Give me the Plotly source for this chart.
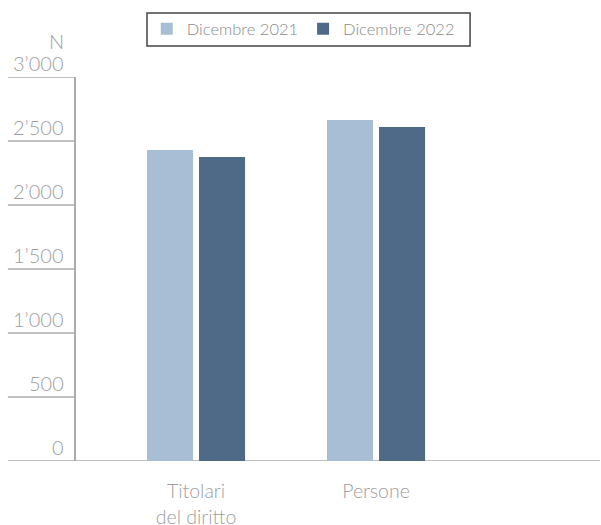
import plotly.graph_objects as go

categories = ["Titolari<br>del diritto", "Persone"]
series_names = ["Dicembre 2021", "Dicembre 2022"]
values_2021 = [2430, 2665]
values_2022 = [2375, 2610]
series_colors = ["#A8BED4", "#4F6A87"]
y_ticks = [0, 500, 1000, 1500, 2000, 2500, 3000]
y_tick_labels = ["0", "500", "1’000", "1’500", "2’000", "2’500", "3’000"]

FONT = "Lato"
GRAY = "#9e9e9e"
LINE = "#ababab"

fig = go.Figure()
for name, vals, col in zip(series_names, [values_2021, values_2022], series_colors):
    fig.add_trace(go.Bar(x=categories, y=vals, name=name, marker=dict(color=col, line=dict(width=0))))

shapes = []
annotations = []
for v, lab in zip(y_ticks, y_tick_labels):
    shapes.append(dict(type="line", xref="paper", yref="y", x0=-0.13, x1=1 if v == 0 else 0,
                       y0=v, y1=v, line=dict(color=LINE, width=1.5), layer="below"))
    annotations.append(dict(xref="paper", yref="y", x=-0.019, y=v, xanchor="right", yanchor="bottom",
                            text=lab, showarrow=False, yshift=0,
                            font=dict(family=FONT, size=20, color=GRAY, weight=300)))
annotations.append(dict(xref="paper", yref="y", x=-0.019, y=3000, xanchor="right", yanchor="bottom",
                        text="N", showarrow=False, yshift=22,
                        font=dict(family=FONT, size=20, color=GRAY, weight=300)))
# legend frame
shapes.append(dict(type="rect", xref="paper", yref="paper", x0=0.1355, x1=0.752, y0=1.0807, y1=1.1667,
                   line=dict(color="#444", width=1.5), fillcolor="rgba(0,0,0,0)"))

fig.update_layout(
    width=601, height=525,
    margin=dict(l=76, r=1, t=77, b=64, autoexpand=False),
    paper_bgcolor="white", plot_bgcolor="white",
    barmode="group", bargap=0.422, bargroupgap=0.115,
    font=dict(family=FONT, color=GRAY, weight=300),
    showlegend=True,
    legend=dict(orientation="h", xref="paper", yref="container", x=0.135, y=0.978,
                xanchor="left", yanchor="top", borderwidth=0, bgcolor="rgba(0,0,0,0)",
                font=dict(family=FONT, size=16.5, color="#8a8a8a", weight=300),
                itemwidth=30, tracegroupgap=0),
    xaxis=dict(range=[-0.6667, 2.244], showgrid=False, zeroline=False, showline=False,
               automargin=False,
               ticks="outside", ticklen=13, tickcolor="rgba(0,0,0,0)",
               tickfont=dict(family=FONT, size=19.5, color=GRAY, weight=300)),
    yaxis=dict(range=[0, 3000], tickvals=y_ticks, showticklabels=False, showgrid=False,
               automargin=False,
               zeroline=False, showline=True, linecolor=LINE, linewidth=1.5, ticks=""),
    shapes=shapes, annotations=annotations,
)

fig.write_html("out.html", config={"displayModeBar": False},
               post_script="document.body.style.margin='0';")
